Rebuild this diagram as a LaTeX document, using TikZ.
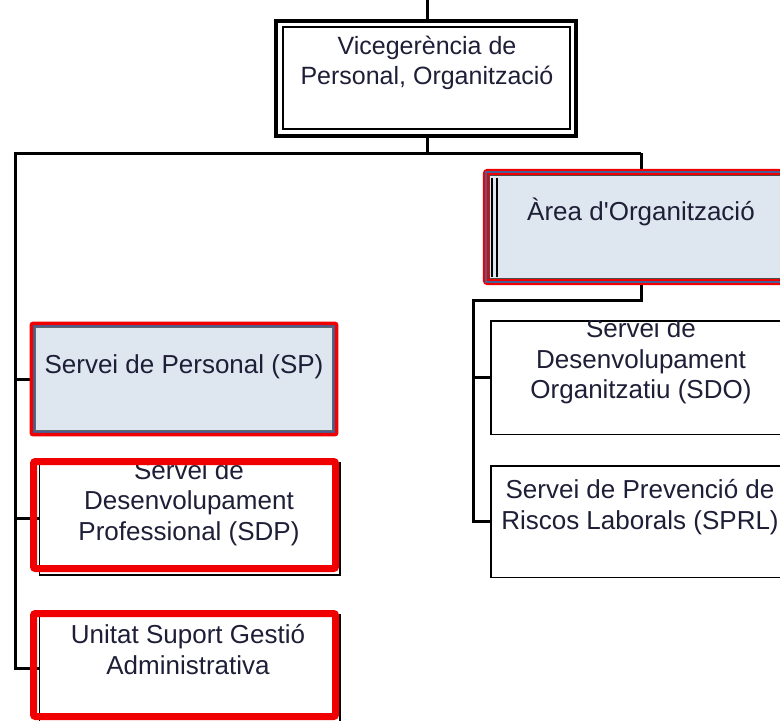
\documentclass[tikz,border=0pt]{standalone}
\usepackage{fontspec}
\setmainfont{Liberation Sans}
\usetikzlibrary{calc}
\definecolor{txt}{RGB}{30,30,55}
\definecolor{boxfill}{RGB}{222,230,240}
\definecolor{hired}{RGB}{240,0,0}
\definecolor{slate}{RGB}{70,95,150}
\tikzset{
  conn/.style={line width=3pt, black},
  blackbox/.style={draw=black, line width=3pt, fill=white, inner sep=0pt, rectangle},
  label/.style={font=\fontsize{26}{30.5}\selectfont, text=txt, align=center, anchor=base, inner sep=0pt},
  redmark/.style={draw=hired, line width=7pt, rounded corners=2pt},
}
\begin{document}
\begin{tikzpicture}[x=1pt,y=-1pt]
\clip (0,0) rectangle (780,721);
\fill[white] (0,0) rectangle (780,721);

% boxes (geometry)
\node[blackbox, minimum width=297pt, minimum height=112pt] (vice) at (425.5,78) {};
\node[rectangle, fill=boxfill, inner sep=0pt, minimum width=310pt, minimum height=110pt] (area) at (641,227) {};
\node[rectangle, fill=boxfill, inner sep=0pt, minimum width=304pt, minimum height=110pt] (sp) at (184,379) {};
\node[blackbox, minimum width=299pt, minimum height=111pt] (sdp) at (189.5,518.5) {};
\node[blackbox, minimum width=299pt, minimum height=107pt] (unitat) at (189.5,668.5) {};
\node[blackbox, minimum width=299pt, minimum height=112pt] (sdo) at (641,377.5) {};
\node[blackbox, minimum width=299pt, minimum height=110pt] (sprl) at (641,521.5) {};

% connectors
\coordinate (top) at (427,0);
\coordinate (lc) at (15,153);
\coordinate (rc) at (641,153);
\coordinate (rb) at (473,300);
\draw[conn] (top) -- (top |- vice.north);
\draw[conn] (vice.south -| top) -- (top |- rc);
\draw[conn] (rc) -- (lc) -- (lc |- unitat.west) -- (unitat.west);
\draw[conn] (lc |- sp.west) -- (sp.west);
\draw[conn] (lc |- sdp.west) -- (sdp.west);
\draw[conn] (rc) -- (area.north);
\draw[conn] (area.south) |- (rb) -- (rb |- sprl.west) -- (sprl.west);
\draw[conn] (rb |- sdo.west) -- (sdo.west);

% redraw boxes over connectors
\draw[line width=4pt] (vice.north west) rectangle (vice.south east);
\fill[white] ($(vice.north west)+(2,2)$) rectangle ($(vice.south east)+(-2,-2)$);
\draw[line width=2pt] ($(vice.north west)+(7,6)$) rectangle ($(vice.south east)+(-6,-7)$);

\fill[white] ($(sdp.north west)+(1.5,1.5)$) rectangle ($(sdp.south east)+(-1.5,-1.5)$);
\fill[white] ($(unitat.north west)+(1.5,1.5)$) rectangle ($(unitat.south east)+(-1.5,-1.5)$);
\fill[white] ($(sdo.north west)+(1.5,1.5)$) rectangle ($(sdo.south east)+(-1.5,-1.5)$);
\fill[white] ($(sprl.north west)+(1.5,1.5)$) rectangle ($(sprl.south east)+(-1.5,-1.5)$);

% area box decorations
\draw[black!70, line width=1pt] ($(area.north west)+(4,4)$) rectangle ($(area.south east)+(-4,-4)$);
\draw[black, line width=2pt] ($(area.north west)+(5.7,6)$) -- ($(area.south west)+(5.7,-5)$);
\draw[black, line width=2pt] ($(area.north west)+(11.3,6)$) -- ($(area.south west)+(11.3,-5)$);
\draw[hired, line width=6pt, rounded corners=2pt] (area.north west) rectangle (area.south east);
\draw[slate, line width=1.5pt] (area.north west) rectangle (area.south east);

% sp box decorations
\draw[black!60, line width=1pt] ($(sp.north west)+(4,4)$) rectangle ($(sp.south east)+(-4,-4)$);
\draw[slate, line width=2pt] ($(sp.north west)+(2.2,2.2)$) rectangle ($(sp.south east)+(-2.2,-2.2)$);
\draw[hired, line width=3.5pt, rounded corners=2pt] ($(sp.north west)+(-0.5,-0.5)$) rectangle ($(sp.south east)+(0.5,0.5)$);

% texts (anchor=base is the baseline of the last line)
\node[label, font=\fontsize{25}{30}\selectfont] (tvice) at (427,84) {Vicegerència de\\Personal, Organització};
\node[label] (tarea) at (641,220) {Àrea d\textquotesingle Organització};
\node[label] (tsp) at (184,373) {Servei de Personal (SP)};
\begin{scope}
  \clip (sdp.north west) rectangle (sdp.south east);
  \node[label] (tsdp) at (189,540) {Servei de\\Desenvolupament\\Professional (SDP)};
\end{scope}
\node[label] (tunitat) at (188,674) {Unitat Suport Gestió\\Administrativa};
\begin{scope}
  \clip (sdo.north west) rectangle (sdo.south east);
  \node[label] (tsdo) at (641,398.5) {Servei de\\Desenvolupament\\Organitzatiu (SDO)};
\end{scope}
\node[label] (tsprl) at (640,529) {Servei de Prevenció de\\Riscos Laborals (SPRL)};

% red highlight frames
\draw[redmark] (33.5,461.5) rectangle (335.5,568.5);
\draw[redmark] (33.5,613.5) rectangle (335.5,716.5);
\end{tikzpicture}
\end{document}
